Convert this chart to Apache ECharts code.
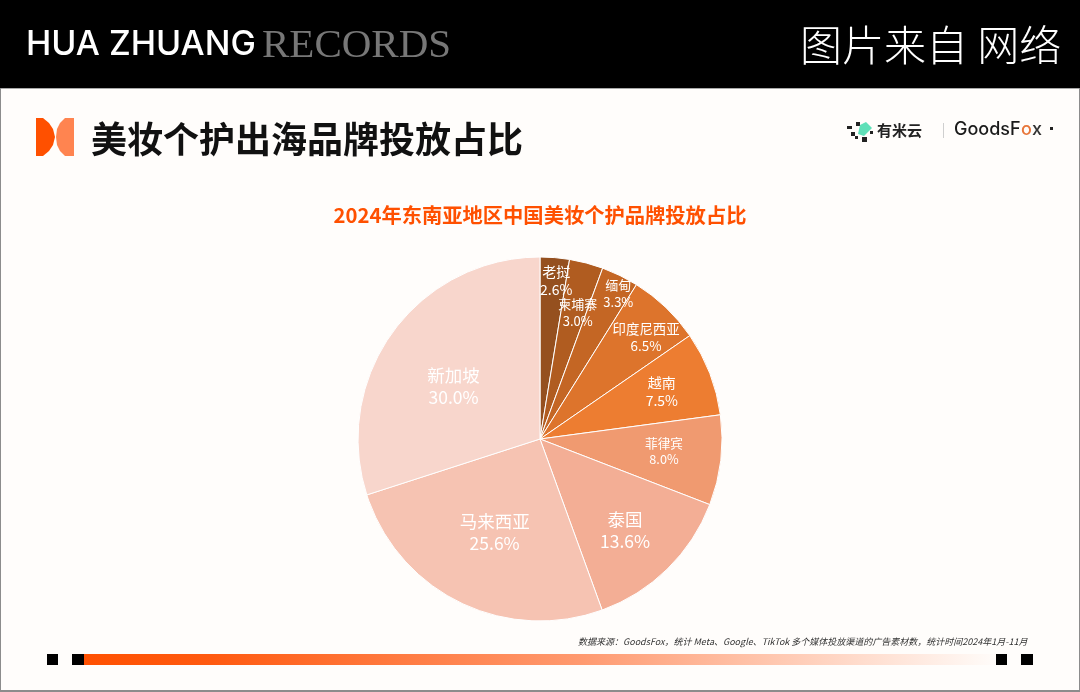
<!DOCTYPE html>
<html>
<head>
<meta charset="utf-8">
<title>美妆个护出海品牌投放占比</title>
<script src="https://cdn.jsdelivr.net/npm/echarts@6/dist/echarts.min.js"></script>
<style>
  html, body { margin: 0; padding: 0; background: #fffdfb; }
  #chart { width: 1080px; height: 692px; }
</style>
</head>
<body>
<div id="chart"></div>
<script>
const countries = ['老挝', '柬埔寨', '缅甸', '印度尼西亚', '越南', '菲律宾', '泰国', '马来西亚', '新加坡'];
const shares = [2.6, 3.0, 3.3, 6.5, 7.5, 8.0, 13.6, 25.6, 30.0];
const sliceColors = ['#95501f', '#b05c20', '#c46624', '#dd742c', '#ed7d31', '#f09a70', '#f3ae95', '#f6c3b2', '#f8d6cc'];
// label styling, one per slice: where the label sits relative to the pie centre, and font size
const labelSpot = [[16, -155], [37, -124], [77, -143], [104, -99], [119, -46], [121, 12], [83, 89], [-44, 91], [-84, -51]];
const labelSize = [14, 13, 13, 13.4, 14, 12.7, 17.5, 17.5, 17.5];

const FONT = '"Noto Sans CJK SC", sans-serif';
const total = shares.reduce((a, b) => a + b, 0);
const pieRadius = 182;

let running = 0;
const pieData = countries.map((name, i) => {
  const mid = (running + shares[i] / 2) / total * Math.PI * 2;
  running += shares[i];
  // inside labels start halfway along the slice's mid line
  const dx = labelSpot[i][0] - Math.sin(mid) * pieRadius / 2;
  const dy = labelSpot[i][1] + Math.cos(mid) * pieRadius / 2;
  return {
    name: name,
    value: shares[i],
    itemStyle: { color: sliceColors[i] },
    label: {
      fontSize: labelSize[i],
      lineHeight: Math.round(labelSize[i] * 1.27),
      offset: [dx, dy]
    }
  };
});

function txt(x, y, text, size, color, extra) {
  return {
    type: 'text', x: x, y: y, silent: true,
    style: Object.assign({
      text: text, fontSize: size, fill: color, fontFamily: FONT,
      textVerticalAlign: 'middle'
    }, extra || {})
  };
}
function box(x, y, w, h, fill) {
  return { type: 'rect', silent: true, shape: { x: x, y: y, width: w, height: h }, style: { fill: fill } };
}
function poly(points, fill) {
  return { type: 'polygon', silent: true, shape: { points: points }, style: { fill: fill } };
}

const decor = [
  box(0, 0, 1080, 88, '#000000'),
  box(0, 88, 1080, 1, '#a8a8a8'),
  box(0, 88, 1, 604, '#8c8c8c'),
  box(1079, 88, 1, 604, '#8c8c8c'),
  box(0, 690, 1080, 2, '#8c8c8c'),
  txt(26, 45, 'HUA ZHUANG', 34, '#ffffff', { fontFamily: 'Inter, sans-serif', fontWeight: 500 }),
  txt(262, 46, 'RECORDS', 41, '#777777', { fontFamily: '"Liberation Serif", serif' }),
  txt(800, 45, '图片来自 网络', 42, '#ffffff', { fontWeight: 300 }),
  poly([[36, 118], [43, 118], [49, 123], [53, 129], [55, 137], [53, 145], [49, 151], [43, 156], [36, 156]], '#ff5000'),
  poly([[74, 118], [65, 118], [60, 123], [57, 129], [56, 137], [57, 145], [60, 151], [65, 156], [74, 156]], '#ff8450'),
  txt(91, 139, '美妆个护出海品牌投放占比', 36, '#111111', { fontWeight: 700 }),
  box(856, 122, 4, 4, '#222222'), box(847, 126, 5, 3, '#222222'), box(851, 132, 4, 4, '#222222'),
  box(862, 137, 5, 5, '#222222'), box(870, 131, 3, 3, '#222222'), box(855, 136, 3, 3, '#222222'),
  poly([[860, 125], [866, 122], [872, 128], [864, 136], [858, 134]], '#5fe0b8'),
  txt(877, 130, '有米云', 15, '#222222', { fontWeight: 700 }),
  box(943, 123, 1, 15, '#cfcfcf'),
  txt(954, 130, 'GoodsF', 18, '#1a1a1a', { fontFamily: 'Inter, sans-serif', fontWeight: 500 }),
  txt(1021, 130, 'o', 18, '#e8763a', { fontFamily: 'Inter, sans-serif', fontWeight: 500 }),
  txt(1032, 130, 'x', 18, '#333333', { fontFamily: 'Inter, sans-serif', fontWeight: 500 }),
  box(1050, 127, 3, 3, '#222222'),
  txt(578, 642, '数据来源：GoodsFox，统计 Meta、Google、TikTok 多个媒体投放渠道的广告素材数，统计时间2024年1月-11月', 9, '#333333', { fontStyle: 'italic' }),
  {
    type: 'rect', silent: true,
    shape: { x: 72, y: 654, width: 928, height: 11 },
    style: {
      fill: new echarts.graphic.LinearGradient(0, 0, 1, 0, [
        { offset: 0, color: '#ff5000' },
        { offset: 0.15, color: '#ff5a10' },
        { offset: 0.55, color: '#ff9a70' },
        { offset: 1, color: '#fffdfb' }
      ])
    }
  },
  box(47, 654, 11, 11, '#000000'),
  box(72, 654, 12, 11, '#000000'),
  box(996, 654, 11, 11, '#000000'),
  box(1021, 654, 12, 11, '#000000')
];

const chart = echarts.init(document.getElementById('chart'));
chart.setOption({
  animation: false,
  backgroundColor: '#fffdfb',
  title: {
    text: '2024年东南亚地区中国美妆个护品牌投放占比',
    left: 'center',
    top: 198,
    textStyle: { color: '#ff5000', fontSize: 20.3, fontWeight: 700, fontFamily: FONT, lineHeight: 24 }
  },
  graphic: decor,
  series: [{
    type: 'pie',
    center: [540, 439],
    radius: pieRadius,
    startAngle: 90,
    clockwise: true,
    avoidLabelOverlap: false,
    minShowLabelAngle: 0,
    data: pieData,
    itemStyle: { borderColor: '#ffffff', borderWidth: 1 },
    label: {
      show: true,
      position: 'inside',
      color: '#ffffff',
      fontFamily: FONT,
      formatter: p => p.name + '\n' + p.value.toFixed(1) + '%'
    },
    labelLayout: { hideOverlap: false },
    labelLine: { show: false },
    emphasis: { disabled: true }
  }]
});
</script>
</body>
</html>
